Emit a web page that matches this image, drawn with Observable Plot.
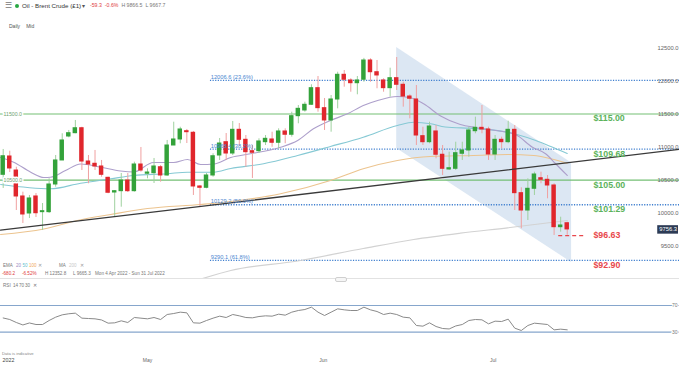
<!DOCTYPE html>
<html><head><meta charset="utf-8">
<script src="https://cdn.jsdelivr.net/npm/d3@7"></script>
<script src="https://cdn.jsdelivr.net/npm/@observablehq/plot@0.6"></script>
<style>
body{margin:0;background:#fff;font-family:"Liberation Sans",Arial,sans-serif;}
#wrap{position:relative;width:679px;height:365px;overflow:hidden;background:#fff;}
.t{position:absolute;white-space:nowrap;line-height:1;}
.t span{margin-right:3px;}
.l1{top:263.5px;font-size:4.5px;color:#777;}
.l2{top:272.2px;font-size:4.6px;color:#777;}
.r1{top:283.8px;font-size:4.6px;color:#777;}
#price{position:absolute;left:0;top:40px;}
#rsi{position:absolute;left:0;top:280px;}
</style></head><body>
<div id="wrap">
  <div class="t" style="left:5px;top:2px;font-size:8px;color:#777">☰</div>
  <div style="position:absolute;left:15px;top:4px;width:4px;height:4px;border-radius:50%;background:#27a844"></div>
  <div class="t" style="left:22px;top:3px;font-size:6.2px;color:#333">Oil - Brent Crude (£1)</div>
  <div class="t" style="left:82px;top:3px;font-size:6px;color:#555">▾</div>
  <div class="t" style="left:90px;top:3.2px;font-size:5.2px;color:#777"><span style="color:#e0393e">-59.3</span><span style="color:#e0393e">-0.6%</span><span>H 9866.5</span><span>L 9667.7</span></div>
  <div class="t" style="left:9px;top:23.5px;font-size:5px;color:#555"><span style="margin-right:6px">Daily</span><span>Mid</span></div>

  <div id="price"></div>

  <div class="t l1" style="left:3px">EMA</div>
  <div class="t l1" style="left:16px;color:#9b8ac4">20</div>
  <div class="t l1" style="left:22.5px;color:#5fbfcf">50</div>
  <div class="t l1" style="left:29px;color:#f0a95a">100</div>
  <div class="t l1" style="left:37.5px;color:#999">✕</div>
  <div class="t l1" style="left:59px">MA</div>
  <div class="t l1" style="left:69px;color:#c8c8c8">200</div>
  <div class="t l1" style="left:80px;color:#999">✕</div>
  <div class="t l2" style="left:2px;color:#e0393e">-680.2</div>
  <div class="t l2" style="left:22px;color:#e0393e">-6.52%</div>
  <div class="t l2" style="left:45px">H 12352.8</div>
  <div class="t l2" style="left:73px">L 9665.3</div>
  <div class="t l2" style="left:95px">Mon 4 Apr 2022 - Sun 31 Jul 2022</div>
  <div style="position:absolute;left:0;top:278px;width:679px;height:1px;background:#e2e2e2"></div>
  <div style="position:absolute;left:335px;top:276.5px;width:10px;height:3px;border:1px solid #cfcfcf;border-radius:2px;background:#f6f6f6"></div>
  <div class="t r1" style="left:3px">RSI</div>
  <div class="t r1" style="left:13px">14</div>
  <div class="t r1" style="left:19px">70</div>
  <div class="t r1" style="left:25px">30</div>
  <div class="t r1" style="left:33px">✕</div>

  <div id="rsi"></div>
  <div class="t" style="left:2px;top:352px;font-size:4.2px;color:#888">Data is indicative</div>
</div>
<script>
// ---- candles (index 1..87, daily) ----
const openP = [10581,10858,10646,10254,9997,10254,10017,10017,10435,10798,
11160,11210,11285,10782,10748,10707,10536,10314,10334,10495,
10334,10737,10597,10606,10696,10571,11024,11115,11240,11216,
10405,10385,10571,10873,11074,10903,11261,11110,10938,10938,
11074,11115,11065,11236,11186,11467,11553,11639,11890,11588,
11402,11719,12092,12006,11965,12017,12308,12131,12006,11890,
12041,11941,11764,11719,11165,11074,11236,10884,10662,10672,
10899,10949,11240,11291,11266,10888,11110,11074,11261,10304,
10042,10370,10530,10506,10420,9790,9850];
const highP = [10964,10938,10696,10319,10269,10299,10148,10521,10873,11201,
11251,11402,11300,10873,10949,10798,10545,10344,10601,10601,
10772,10994,10672,10828,10722,11100,11376,11300,11266,11236,
10420,10601,10899,11130,11205,11387,11356,11175,11024,11125,
11175,11225,11276,11276,11527,11628,11678,11941,12066,11734,
11779,12131,12157,12032,12066,12340,12334,12308,12032,12192,
12353,11980,11790,11930,11300,11376,11326,11024,10923,11074,
11074,11300,11452,11628,11300,11175,11150,11391,11326,10385,
10521,10621,10621,10571,10446,9941,9866];
const lowP = [10375,10616,10042,9846,9921,9936,9740,9997,10394,10798,
11140,11201,10646,10446,10646,10545,10295,9941,10092,10314,
10319,10621,10521,10450,10470,10560,11024,11050,11054,10269,
10092,10370,10545,10798,10798,10873,11024,10696,10526,10903,
11024,10998,10974,11050,11150,11352,11527,11628,11527,11251,
11225,11578,11905,11829,11790,11980,11980,11881,11829,11754,
11855,11603,11427,11024,11024,11050,10823,10571,10646,10646,
10798,10847,11201,11201,10798,10798,10974,11050,10042,9766,
9891,10269,10446,10219,9665,9715,9668];
const closeP = [10862,10677,10254,9982,10224,10001,10032,10435,10798,11100,
11210,11285,10782,10737,10707,10581,10310,10334,10495,10334,
10737,10646,10616,10707,10571,11024,11115,11266,11225,10405,
10385,10571,10862,11054,10903,11261,11110,10923,10914,11085,
11125,11065,11236,11186,11467,11578,11639,11890,11588,11402,
11719,12092,12017,11965,12006,12308,12131,12082,11890,12041,
11941,11764,11730,11175,11074,11311,10884,10672,10681,10908,
10949,11251,11291,11266,10888,11110,11074,11261,10304,10042,
10370,10586,10506,10420,9790,9816,9756.3];
const rsiP = [51.3,49,44.5,40.8,43.8,41.5,41.5,47.5,52.5,56,
57.6,58.5,51,50.5,50,48.3,43.5,44,47,44.5,
52,51,50,52,49,56.5,58,60,59,44,
43.5,47.5,51,54,52,56.5,54.5,52,51.5,53.5,
54.5,54,57,55.5,60,62.5,64,67.5,60,55,
60,65,63.5,62.5,62.5,67.5,63.5,61,56.5,58.5,
56.5,52.5,51.5,40,39,44,38.5,35.5,34.8,39.3,
41.5,47.5,49,48.5,42.5,46.5,46,49.5,36,32.5,
40,43.5,42.5,41.5,33.5,34.5,33.5];

// ---- moving averages: [bar index, price] ----
const ema20 = [[0.6,10843],[2.6,10772],[5.2,10621],[7.2,10541],[8.2,10545],[10.5,10646],[12.8,10745],[15.8,10699],[18.9,10639],[20.9,10624],[23.9,10767],[27,10767],[29.1,10813],[31.1,10737],[33.1,10745],[35.7,10843],[38.7,10899],[43.3,10998],[45.9,11100],[48.3,11276],[50.9,11402],[53.5,11503],[55.9,11628],[58.1,11704],[61.1,11764],[63.1,11745],[65.1,11654],[67.7,11470],[70.7,11341],[73,11296],[76.1,11251],[79.1,11190],[81.7,10998],[83.7,10899],[85.2,10752],[87,10571]];
const ema50 = [[0.6,10435],[8.2,10370],[12.8,10455],[17.4,10521],[20.9,10571],[26,10597],[29.1,10621],[33.1,10621],[35.7,10677],[40.7,10748],[45.9,10873],[50.9,11009],[55.9,11150],[61.1,11326],[63.6,11376],[66.2,11352],[68.4,11303],[73,11281],[77.9,11225],[82.2,11100],[84.5,11009],[87,10903]];
const ema100 = [[0.6,9680],[7.2,9763],[12.3,9891],[17.4,9982],[23,10072],[31.1,10133],[35.7,10178],[43.3,10295],[50.9,10495],[55.9,10672],[61.1,10798],[66.1,10858],[72.7,10873],[77.9,10888],[81.9,10873],[84.5,10823],[87,10757]];
const ma200 = [[30.6,8990],[35.7,9136],[45.9,9279],[55.9,9468],[63.6,9604],[70.7,9699],[77.9,9781],[87,9891]];

// ---- drawings ----
const trendLine = [[0.59,9745],[104.12,10965]];
const channel = [{i:61, hi:12505, lo:10979},{i:87.66, hi:10760, lo:9257}];
const greenLevels = [11500, 10500];
const fibLevels = [12006.6, 10968.4, 10129.2, 9290.1];
const fibPct = ["23.6%","38.2%","50.0%","61.8%"];
const fibStart = 32.6;
const keyLevels = [11500, 10968, 10500, 10129, 9290];
const keyText = ["$115.00","$109.68","$105.00","$101.29","$92.90"];
const keyColor = ["#5cb35c","#5cb35c","#5cb35c","#5cb35c","#e8474c"];
const targetLevel = 9663, targetText = "$96.63", targetFrom = 85.7, targetTo = 89.8;
const labelAt = 91;
const yTicks = [9500,10000,10500,11000,11500,12000,12500];
const tagFrom = 100.8;
const monthIdx = [0.9, 23.0, 49.8, 75.7];
const monthText = ["2022","May","Jun","Jul"];
const rsiLevels = [70, 30];

const xDomain = [0.588, 104.12];
const FONT = "Liberation Sans, Arial, sans-serif";
const candles = openP.map((o,k)=>({i:k+1, o, h:highP[k], l:lowP[k], c:closeP[k]}));
const up = candles.filter(d=>d.c>=d.o), dn = candles.filter(d=>d.c<d.o);
const pts = a => a.map(([i,v])=>({i,v}));
const fib = fibLevels.map((v,k)=>({v, t:`${v.toFixed(1)} (${fibPct[k]})`, x1:fibStart, x2:xDomain[1]}));
const keys = keyLevels.map((v,k)=>({v, t:keyText[k], c:keyColor[k]}));
const last = closeP[closeP.length-1];

const price = Plot.plot({
  width: 679, height: 238, margin: 0,
  style: {fontFamily: FONT, background: "transparent", overflow: "visible"},
  x: {domain: xDomain, axis: null},
  y: {domain: [9015, 12610], axis: null},
  marks: [
    Plot.areaY(channel, {x:"i", y1:"lo", y2:"hi", fill:"#d8e4f2", fillOpacity:0.9}),
    Plot.ruleY(greenLevels, {stroke:"#74bf74", strokeWidth:1.2}),
    Plot.ruleY(fib, {y:"v", x1:"x1", x2:"x2", stroke:"#3f7fcf", strokeWidth:1.3, strokeDasharray:"1.2,1.4"}),
    Plot.line(pts(ma200), {x:"i", y:"v", stroke:"#d2d2d2", strokeWidth:1.2, curve:"monotone-x", clip:true}),
    Plot.line(pts(ema100), {x:"i", y:"v", stroke:"#ecc48f", strokeWidth:1.1, curve:"monotone-x"}),
    Plot.line(pts(ema50), {x:"i", y:"v", stroke:"#86c9d4", strokeWidth:1.1, curve:"monotone-x"}),
    Plot.line(pts(ema20), {x:"i", y:"v", stroke:"#ad9fcb", strokeWidth:1.1, curve:"monotone-x"}),
    Plot.ruleX(up, {x:"i", y1:"l", y2:"h", stroke:"#9fd19f", strokeWidth:1}),
    Plot.ruleX(dn, {x:"i", y1:"l", y2:"h", stroke:"#f0a0a0", strokeWidth:1}),
    Plot.rect(up, {x1:d=>d.i-0.34, x2:d=>d.i+0.34, y1:"o", y2:"c", fill:"#33a23a", insetTop:-0.5, insetBottom:-0.5}),
    Plot.rect(dn, {x1:d=>d.i-0.34, x2:d=>d.i+0.34, y1:"o", y2:"c", fill:"#e0262c", insetTop:-0.5, insetBottom:-0.5}),
    Plot.line(pts(trendLine), {x:"i", y:"v", stroke:"#3a3a3a", strokeWidth:1.3}),
    Plot.ruleY([{v:targetLevel, x1:targetFrom, x2:targetTo}], {y:"v", x1:"x1", x2:"x2", stroke:"#e8474c", strokeWidth:1.2, strokeDasharray:"4,3"}),
    Plot.text(fib, {x:d=>d.x1+0.05, y:"v", text:"t", textAnchor:"start", dy:-3.5, fontSize:5.7, fill:"#4a86d0"}),
    Plot.text(greenLevels, {y:d=>d, text:d=>d.toFixed(1), frameAnchor:"left", textAnchor:"start", dx:3, fontSize:5.2, fill:"#6f9f6f", stroke:"white", strokeWidth:3}),
    Plot.text(keys, {x:()=>labelAt, y:"v", text:"t", fill:"c", textAnchor:"start", dy:4.5, fontSize:8.8, fontWeight:"bold"}),
    Plot.text([targetLevel], {x:()=>labelAt, y:d=>d, text:()=>targetText, fill:"#e8474c", textAnchor:"start", fontSize:8.8, fontWeight:"bold"}),
    Plot.text(yTicks, {y:d=>d, text:d=>d.toFixed(1), frameAnchor:"right", textAnchor:"end", dx:-1, fontSize:5.8, fill:"#666"}),
    Plot.ruleY([last], {x1:()=>tagFrom, x2:()=>xDomain[1]-0.15, stroke:"#2d3b55", strokeWidth:8.5}),
    Plot.text([last], {y:d=>d, text:d=>d.toFixed(1), frameAnchor:"right", textAnchor:"end", dx:-2.5, fontSize:5.8, fill:"white"})
  ]
});
document.getElementById("price").appendChild(price);

const rsi = Plot.plot({
  width: 679, height: 85, marginTop: 0, marginBottom: 15, marginLeft: 0, marginRight: 0,
  style: {fontFamily: FONT, background: "transparent", overflow: "visible"},
  x: {domain: xDomain, axis: null},
  y: {domain: [2.5, 107.5], axis: null},
  marks: [
    Plot.ruleY(rsiLevels, {stroke:"#86a6cc", strokeWidth:1.2}),
    Plot.line(rsiP.map((v,k)=>({i:k+1, v})), {x:"i", y:"v", stroke:"#8a8a8a", strokeWidth:1}),
    Plot.text(rsiLevels, {y:d=>d, text:d=>String(d), frameAnchor:"right", textAnchor:"end", dx:-2, fontSize:5, fill:"#777", stroke:"white", strokeWidth:2}),
    Plot.text(monthIdx.map((i,k)=>({i, t:monthText[k]})).slice(0,1), {x:"i", text:"t", frameAnchor:"bottom", dy:11, textAnchor:"start", fontSize:5.3, fill:"#444"}),
    Plot.text(monthIdx.map((i,k)=>({i, t:monthText[k]})).slice(1), {x:"i", text:"t", frameAnchor:"bottom", dy:11, fontSize:5, fill:"#666"})
  ]
});
document.getElementById("rsi").appendChild(rsi);
</script>
</body></html>
